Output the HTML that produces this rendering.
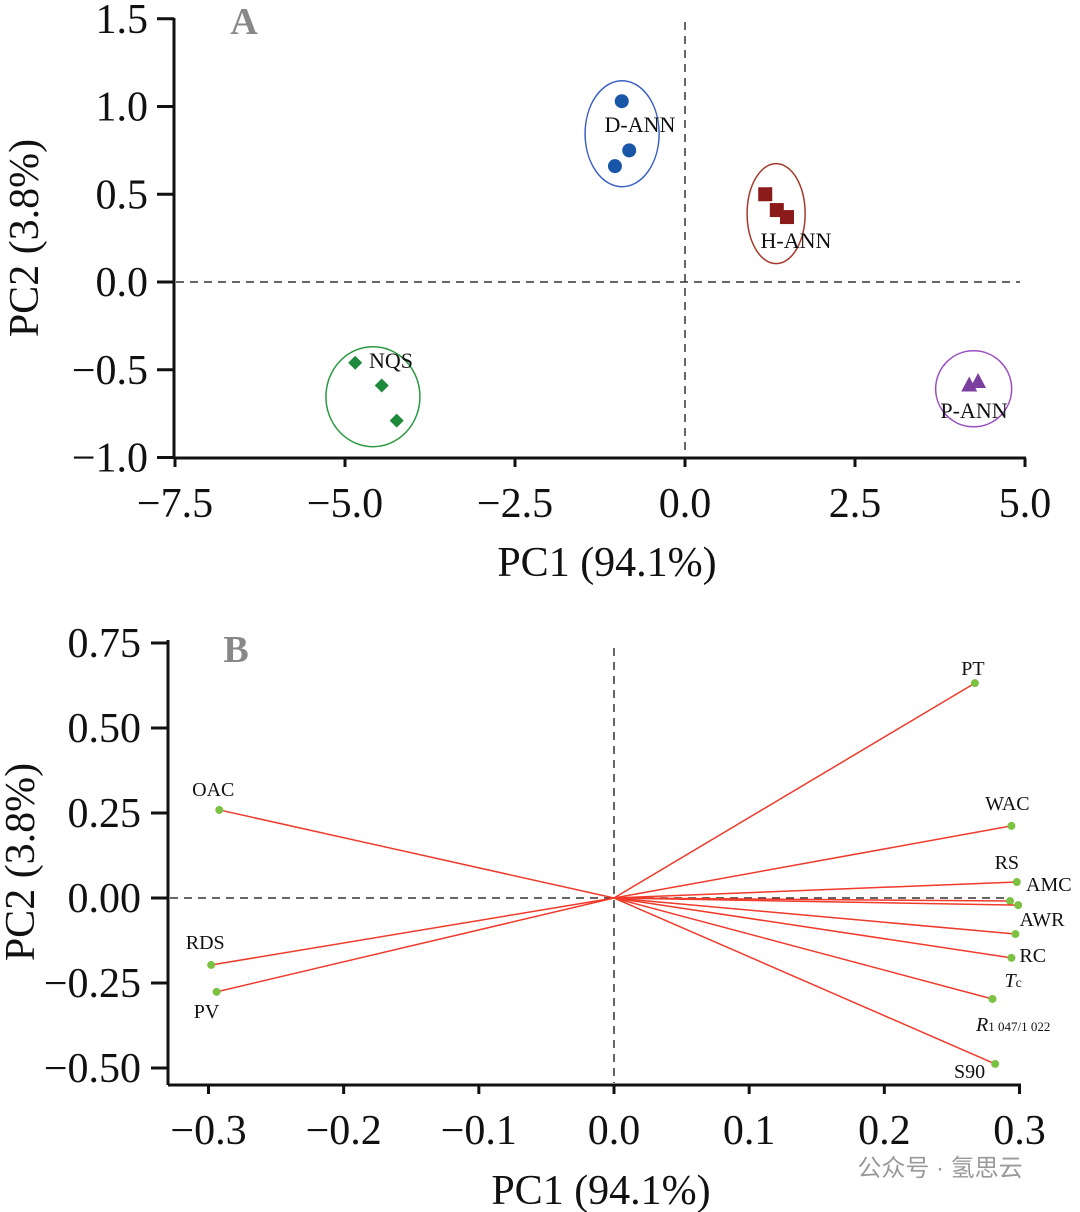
<!DOCTYPE html>
<html><head><meta charset="utf-8"><style>
html,body{margin:0;padding:0;background:#fff;}
svg{display:block;font-family:"Liberation Serif",serif;}
</style></head><body>
<svg id="svg" width="1080" height="1212" viewBox="0 0 1080 1212"></svg>
<script>
// ---- Chart A data ----
const aGroups = ["D-ANN","H-ANN","NQS","P-ANN"];
const aPC1 = [[-0.93,-0.82,-1.03],[1.18,1.35,1.50],[-4.85,-4.46,-4.24],[4.18,4.31]];
const aPC2 = [[1.03,0.75,0.66],[0.50,0.41,0.37],[-0.46,-0.59,-0.79],[-0.59,-0.57]];
const aXTicks = [-7.5,-5.0,-2.5,0.0,2.5,5.0];
const aYTicks = [1.5,1.0,0.5,0.0,-0.5,-1.0];
// ---- Chart B data ----
const bVars = ["PT","WAC","RS","AMC","AWR","RC","Tc","R","S90","OAC","RDS","PV"];
const bPC1 = [0.267,0.294,0.298,0.293,0.299,0.297,0.294,0.280,0.282,-0.292,-0.298,-0.294];
const bPC2 = [0.632,0.212,0.047,-0.009,-0.021,-0.106,-0.176,-0.297,-0.488,0.259,-0.197,-0.276];
const bXTicks = [-0.3,-0.2,-0.1,0.0,0.1,0.2,0.3];
const bYTicks = [0.75,0.50,0.25,0.00,-0.25,-0.50];

const NS="http://www.w3.org/2000/svg";
const svg=document.getElementById('svg');
function mk(tag,attrs,parent){const e=document.createElementNS(NS,tag);for(const k in attrs)e.setAttribute(k,attrs[k]);(parent||svg).appendChild(e);return e;}
function txt(s,x,y,size,anchor,parent,extra){const t=mk('text',Object.assign({x:x,y:y,'font-size':size,'text-anchor':anchor||'start',fill:'#111'},extra||{}),parent);t.textContent=s;return t;}

// Chart A scales
const axA=v=>685+v*68, ayA=v=>282-v*175.5;
const gA=mk('g',{});


mk('line',{x1:174,y1:18,x2:174,y2:458,stroke:'#111','stroke-width':3},gA);
mk('line',{x1:174,y1:458,x2:1026,y2:458,stroke:'#111','stroke-width':3},gA);
aYTicks.forEach(v=>{const y=ayA(v);mk('line',{x1:157,y1:y,x2:174,y2:y,stroke:'#111','stroke-width':3},gA);
 const t=txt(v.toFixed(1).replace('-','\u2212'),148,y+14,42,'end',gA);});
aXTicks.forEach(v=>{const x=axA(v);mk('line',{x1:x,y1:458,x2:x,y2:467,stroke:'#111','stroke-width':3},gA);
 const t=txt(v.toFixed(1).replace('-','\u2212'),x,517,42,'middle',gA);});
mk('line',{x1:176,y1:ayA(0),x2:1020,y2:ayA(0),stroke:'#333','stroke-width':1.5,'stroke-dasharray':'8,6'},gA);
mk('line',{x1:axA(0),y1:22,x2:axA(0),y2:456,stroke:'#333','stroke-width':1.5,'stroke-dasharray':'8,6'},gA);
let t=txt('PC1 (94.1%)',607,576,42,'middle',gA);
t=txt('PC2 (3.8%)',0,0,42,'middle',gA,{transform:'translate(38,238) rotate(-90)'});
t=txt('A',244,34,38,'middle',gA,{fill:'#888','font-weight':'bold'});
const colors=['#1a56a8','#8b1a1a','#1e8a3c','#7b3fa0'];
const ellColors=['#3a5fc8','#a53a2a','#2a9a40','#9a4ec0'];
const ellR=[[37,53],[29,50],[47,50],[38,38]];
const ellShift=[[0,0],[0,8],[-3,5],[0,5]];
aGroups.forEach((g,i)=>{
 const xs=aPC1[i].map(axA), ys=aPC2[i].map(ayA);
 const cx=(Math.min(...xs)+Math.max(...xs))/2+ellShift[i][0], cy=(Math.min(...ys)+Math.max(...ys))/2+ellShift[i][1];
 const e=mk('ellipse',{cx:cx,cy:cy,rx:ellR[i][0],ry:ellR[i][1],fill:'none',stroke:ellColors[i],'stroke-width':1.5},gA);
 
 
 xs.forEach((x,j)=>{const y=ys[j];let m;
  if(i===0)m=mk('circle',{cx:x,cy:y,r:7,fill:colors[i]},gA);
  else if(i===1)m=mk('rect',{x:x-7,y:y-7,width:14,height:14,fill:colors[i]},gA);
  else if(i===2)m=mk('polygon',{points:`${x},${y-7} ${x+7},${y} ${x},${y+7} ${x-7},${y}`,fill:colors[i]},gA);
  else m=mk('polygon',{points:`${x},${y-9} ${x+8},${y+6} ${x-8},${y+6}`,fill:colors[i]},gA);
  
  
 });
});
const aLab=[[640,132],[796,248],[391,368],[974,418]];
aGroups.forEach((g,i)=>{const l=txt(g,aLab[i][0],aLab[i][1],22,'middle',gA);});

// Chart B scales
const axB=v=>614+v*1351.7, ayB=v=>898-v*340;
const gB=mk('g',{});


mk('line',{x1:168,y1:640,x2:168,y2:1085,stroke:'#111','stroke-width':3},gB);
mk('line',{x1:168,y1:1085,x2:1021,y2:1085,stroke:'#111','stroke-width':3},gB);
bYTicks.forEach(v=>{const y=ayB(v);mk('line',{x1:151,y1:y,x2:168,y2:y,stroke:'#111','stroke-width':3},gB);
 const t=txt(v.toFixed(2).replace('-','\u2212'),141,y+14,42,'end',gB);});
bXTicks.forEach(v=>{const x=axB(v);mk('line',{x1:x,y1:1085,x2:x,y2:1094,stroke:'#111','stroke-width':3},gB);
 const t=txt(v.toFixed(1).replace('-','\u2212'),x,1144,42,'middle',gB);});
mk('line',{x1:170,y1:ayB(0),x2:1010,y2:ayB(0),stroke:'#333','stroke-width':1.5,'stroke-dasharray':'8,6'},gB);
mk('line',{x1:axB(0),y1:648,x2:axB(0),y2:1083,stroke:'#333','stroke-width':1.5,'stroke-dasharray':'8,6'},gB);
t=txt('PC1 (94.1%)',601,1204,42,'middle',gB);
t=txt('PC2 (3.8%)',0,0,42,'middle',gB,{transform:'translate(34,862) rotate(-90)'});
t=txt('B',236,662,38,'middle',gB,{fill:'#888','font-weight':'bold'});
bVars.forEach((v,i)=>{const x=axB(bPC1[i]),y=ayB(bPC2[i]);
 const l=mk('line',{x1:axB(0),y1:ayB(0),x2:x,y2:y,stroke:'#f03a2a','stroke-width':1.5},gB);
 
 
 const c=mk('circle',{cx:x,cy:y,r:4,fill:'#7cc242'},gB);
 
 
});
function lab(s,x,y,anchor,extra){const t=txt(s,x,y,20,anchor,gB,extra);return t;}
lab('PT',axB(bPC1[0])-2,ayB(bPC2[0])-8,'middle');
lab('WAC',axB(bPC1[1])-4,ayB(bPC2[1])-16,'middle');
lab('RS',axB(bPC1[2])-10,ayB(bPC2[2])-13,'middle');
lab('AMC',axB(bPC1[3])+16,ayB(bPC2[2])+9,'start');
lab('AWR',axB(bPC1[5])+4,ayB(bPC2[5])-8,'start');
lab('RC',axB(bPC1[6])+8,ayB(bPC2[6])+4,'start');
let tc=lab('T',axB(bPC1[7])+12,ayB(bPC2[7])-12,'start',{'font-style':'italic'});
tc.innerHTML='T<tspan font-size="14" font-style="normal">c</tspan>';
let rr=lab('R',976,1031,'start',{'font-style':'italic'});
rr.innerHTML='R<tspan font-size="13" font-style="normal">1 047/1 022</tspan>';
lab('S90',axB(bPC1[8])-10,ayB(bPC2[8])+14,'end');
lab('OAC',axB(bPC1[9])-6,ayB(bPC2[9])-14,'middle');
lab('RDS',axB(bPC1[10])-6,ayB(bPC2[10])-16,'middle');
lab('PV',axB(bPC1[11])-10,ayB(bPC2[11])+26,'middle');
// watermark
t=txt('公众号 · 氢思云',940,1176,24,'middle',svg,{fill:'#999','font-family':'"Liberation Sans","Noto Sans CJK SC",sans-serif'});

</script>
</body></html>
